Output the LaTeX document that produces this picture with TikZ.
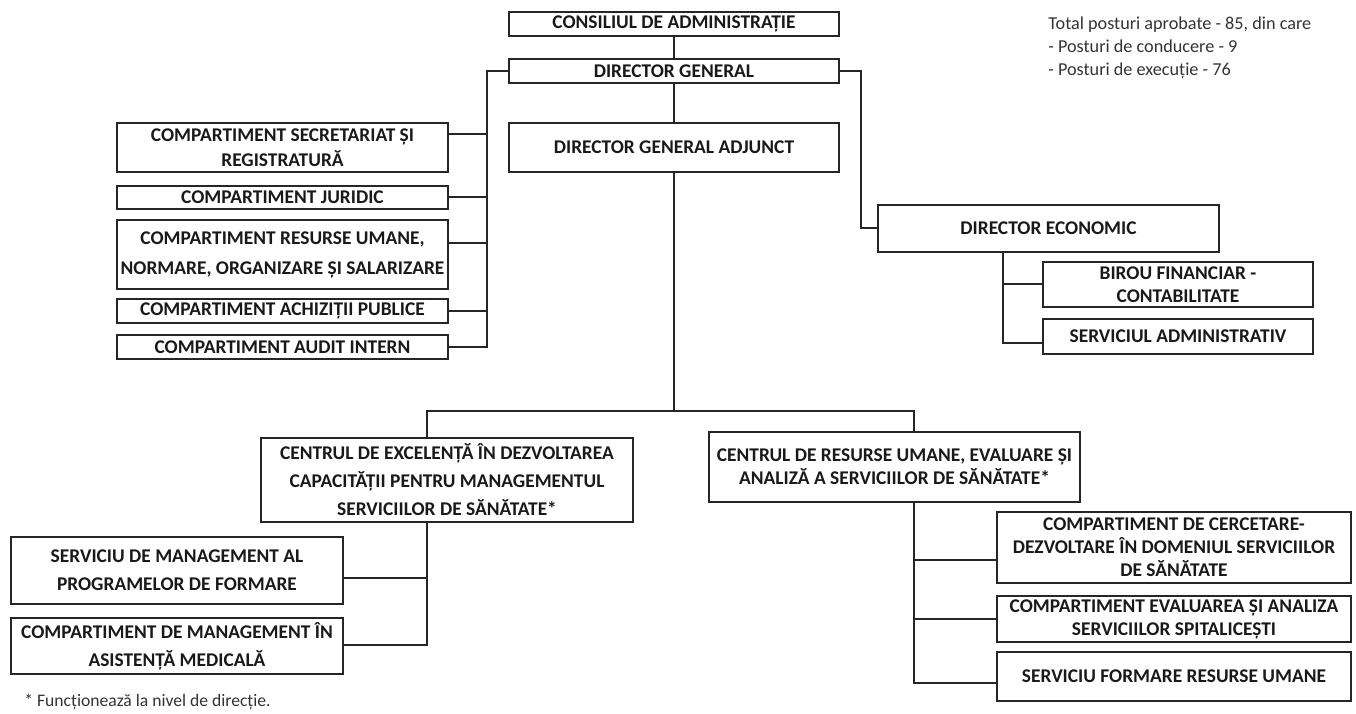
\documentclass[tikz,border=0pt]{standalone}
\usepackage{fontspec}
\setmainfont{Carlito}
\usetikzlibrary{calc, positioning}

\begin{document}
\begin{tikzpicture}[x=0.5pt, y=-0.5pt,
  box/.style={draw=black!85, line width=1.1pt, align=center, inner sep=0pt, text=black!90, font=\fontsize{9.7}{11.5}\selectfont\bfseries},
  gap/.style={font=\fontsize{9.7}{#1}\selectfont\bfseries},
  link/.style={draw=black!85, line width=1.2pt}]
\useasboundingbox (0,0) rectangle (1356,713);

% Top of the chart
\node[box, minimum width=165pt, minimum height=12pt] (cons) at (674,24) {CONSILIUL DE ADMINISTRAȚIE};
\node[box, minimum width=165pt, minimum height=12pt] (dg) at (674,71) {DIRECTOR GENERAL};
\node[box, minimum width=165pt, minimum height=24.5pt] (dga) at (674,147.5) {DIRECTOR GENERAL ADJUNCT};

% Compartments under the director general
\node[box, gap=12.5pt, minimum width=165.5pt, minimum height=24.5pt] (secr) at (282.5,147.5) {COMPARTIMENT SECRETARIAT ȘI\\REGISTRATURĂ};
\node[box, minimum width=165.5pt, minimum height=11.5pt] (jur) at (282.5,197.5) {COMPARTIMENT JURIDIC};
\node[box, gap=15pt, minimum width=165.5pt, minimum height=34.5pt] (ru) at (282.5,254.5) {COMPARTIMENT RESURSE UMANE,\\NORMARE, ORGANIZARE ȘI SALARIZARE};
\node[box, minimum width=165.5pt, minimum height=12pt] (achiz) at (282.5,311) {COMPARTIMENT ACHIZIȚII PUBLICE};
\node[box, minimum width=165.5pt, minimum height=12pt] (audit) at (282.5,347) {COMPARTIMENT AUDIT INTERN};

% Economic side
\node[box, minimum width=170.5pt, minimum height=23.5pt] (dec) at (1048.5,228.5) {DIRECTOR ECONOMIC};
\node[box, minimum width=135pt, minimum height=22.5pt] (birou) at (1178,284.5) {BIROU FINANCIAR -\\CONTABILITATE};
\node[box, minimum width=135pt, minimum height=17.5pt, text depth=-1pt] (sadm) at (1178,336.5) {SERVICIUL ADMINISTRATIV};

% The two centres
\node[box, gap=14pt, minimum width=186pt, minimum height=42pt] (cex) at (447,480) {CENTRUL DE EXCELENȚĂ ÎN DEZVOLTAREA\\CAPACITĂȚII PENTRU MANAGEMENTUL\\SERVICIILOR DE SĂNĂTATE*};
\node[box, minimum width=185.5pt, minimum height=35pt] (cru) at (894.5,467) {CENTRUL DE RESURSE UMANE, EVALUARE ȘI\\ANALIZĂ A SERVICIILOR DE SĂNĂTATE*};

% Under the centre of excellence
\node[box, gap=14pt, minimum width=166pt, minimum height=33.5pt] (smp) at (177,570.5) {SERVICIU DE MANAGEMENT AL\\PROGRAMELOR DE FORMARE};
\node[box, gap=14pt, minimum width=166pt, minimum height=28pt] (cman) at (177,646) {COMPARTIMENT DE MANAGEMENT ÎN\\ASISTENȚĂ MEDICALĂ};

% Under the human resources centre
\node[box, minimum width=177pt, minimum height=35.5pt] (cerc) at (1174,547.5) {COMPARTIMENT DE CERCETARE-\\DEZVOLTARE ÎN DOMENIUL SERVICIILOR\\DE SĂNĂTATE};
\node[box, minimum width=177pt, minimum height=23pt] (eval) at (1174,619) {COMPARTIMENT EVALUAREA ȘI ANALIZA\\SERVICIILOR SPITALICEȘTI};
\node[box, minimum width=177pt, minimum height=24.5pt] (form) at (1174,676.5) {SERVICIU FORMARE RESURSE UMANE};

% Notes
\node[anchor=north west, align=left, inner sep=0pt, text=black!80, font=\fontsize{9.1}{11.5}\selectfont] (posts) at (1048,16) {Total posturi aprobate - 85, din care\\- Posturi de conducere - 9\\- Posturi de execuție - 76};
\node[anchor=west, inner sep=0pt, text=black!80, font=\fontsize{8.8}{10}\selectfont] (fnote) at (24,702) {* Funcționează la nivel de direcție.};

% Junctions
\coordinate (spL) at (487,347);
\coordinate (jsecr) at (487,134);
\coordinate (jjur) at (487,197);
\coordinate (jru) at (487,243);
\coordinate (jachiz) at (487,311);
\coordinate (spR) at (861,228);
\coordinate (ecoA) at (1003,284);
\coordinate (ecoB) at (1003,343);
\coordinate (busL) at (427,411);
\coordinate (busR) at (914,411);
\coordinate (cexA) at (427,578);
\coordinate (cexB) at (427,645);
\coordinate (cruA) at (914,560);
\coordinate (cruB) at (914,619);
\coordinate (cruC) at (914,683);

% Main line
\draw[link] (cons.south) -- (dg.north);
\draw[link] (dg.south) -- (dga.north);
\draw[link] (dga.south) -- (dga.south |- busL);
\draw[link] (cex.north -| busL) -- (busL) -- (busR) -- (busR |- cru.north);

% Left spine
\draw[link] (dg.west) -| (spL) -- (audit.east);
\foreach \b/\j in {secr/jsecr, jur/jjur, ru/jru, achiz/jachiz}
  \draw[link] (\b.east |- \j) -- (\j);

% Right spine
\draw[link] (dg.east) -| (spR) -- (dec.west |- spR);
\draw[link] (dec.south -| ecoB) -- (ecoB) -- (ecoB -| sadm.west);
\draw[link] (ecoA) -- (ecoA -| birou.west);

% Centres
\draw[link] (cex.south -| cexB) -- (cexB) -- (cexB -| cman.east);
\draw[link] (cexA) -- (cexA -| smp.east);
\draw[link] (cru.south -| cruC) -- (cruC) -- (cruC -| form.west);
\draw[link] (cruA) -- (cruA -| cerc.west);
\draw[link] (cruB) -- (cruB -| eval.west);
\end{tikzpicture}
\end{document}
